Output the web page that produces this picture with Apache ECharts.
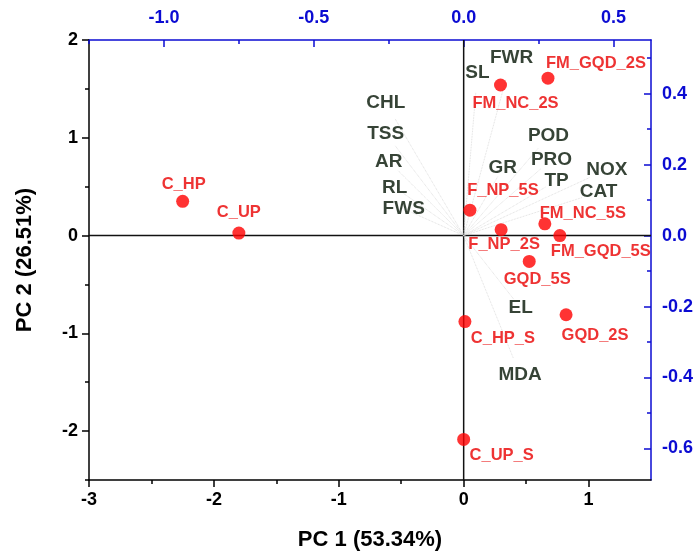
<!DOCTYPE html>
<html>
<head>
<meta charset="utf-8">
<script src="https://cdn.jsdelivr.net/npm/echarts@6/dist/echarts.min.js"></script>
<style>
  html, body { margin: 0; padding: 0; background: #fff; }
  #chart { width: 693px; height: 553px; }
</style>
</head>
<body>
<div id="chart"></div>
<script>
// PCA scores of the samples (PC1, PC2)
const sampleNames = ['C_HP', 'C_UP', 'C_HP_S', 'C_UP_S', 'F_NP_5S', 'F_NP_2S', 'GQD_5S', 'GQD_2S', 'FM_NC_2S', 'FM_GQD_2S', 'FM_NC_5S', 'FM_GQD_5S'];
const samplePC1 = [-2.25, -1.80, 0.01, 0.00, 0.05, 0.30, 0.525, 0.82, 0.295, 0.675, 0.65, 0.77];
const samplePC2 = [0.35, 0.025, -0.88, -2.085, 0.26, 0.06, -0.265, -0.81, 1.54, 1.61, 0.12, 0.0];

// PCA loadings of the measured variables (PC1, PC2)
const varNames = ['CHL', 'TSS', 'AR', 'RL', 'FWS', 'SL', 'FWR', 'GR', 'POD', 'PRO', 'TP', 'NOX', 'CAT', 'EL', 'MDA'];
const loadPC1 = [-0.26, -0.26, -0.25, -0.23, -0.20, 0.046, 0.16, 0.13, 0.283, 0.293, 0.31, 0.478, 0.45, 0.19, 0.188];
const loadPC2 = [0.374, 0.288, 0.209, 0.136, 0.075, 0.458, 0.50, 0.19, 0.28, 0.214, 0.155, 0.186, 0.122, -0.204, -0.392];

// Tick values
const scoreXTicks = [-3, -2, -1, 0, 1];
const scoreXMinor = [-2.5, -1.5, -0.5, 0.5];
const scoreYTicks = [-2, -1, 0, 1, 2];
const scoreYMinor = [-2.5, -1.5, -0.5, 0.5, 1.5];
const loadXTicks = [-1.0, -0.5, 0.0, 0.5];
const loadXMinor = [-1.25, -0.75, -0.25, 0.25];
const loadYTicks = [-0.6, -0.4, -0.2, 0.0, 0.2, 0.4];
const loadYMinor = [-0.5, -0.3, -0.1, 0.1, 0.3, 0.5];

// Axis extents: scores on bottom/left, loadings on top/right
const scoreX = { min: -3, max: 1.5 };
const scoreY = { min: -2.5, max: 2 };
const loadScaleX = 1.875 / 4.5;
const loadScaleY = 0.2755;
const loadX = { min: scoreX.min * loadScaleX, max: scoreX.max * loadScaleX };
const loadY = { min: scoreY.min * loadScaleY, max: scoreY.max * loadScaleY };

// Label placement for each sample (pixel offsets from the dot)
const sampleLabelOffset = [[1, -17], [0, -21], [38, 17], [38, 16], [33, -20], [3, 15], [8, 18], [29, 21], [15, 18], [48, -15], [38, -10], [41, 16]];

const FONT = "'Liberation Sans', Arial, sans-serif";
const BLUE = '#0b0bd2';
const RED = '#ff0000';
const RED_TEXT = '#ea0000';
const VAR_COLOR = '#041404';

function axisPair(position, ext, major, minor, color, inside, fmt, extra) {
  const main = Object.assign({
    type: 'value', position: position, min: ext.min, max: ext.max,
    axisLine: { show: true, onZero: false, lineStyle: { color: color, width: 1.5 } },
    axisTick: { show: true, inside: inside, length: 7, customValues: major, lineStyle: { color: color, width: 1.5 } },
    axisLabel: { show: true, customValues: major, color: color, fontFamily: FONT, fontWeight: 'bold', fontSize: 18, margin: 11, formatter: fmt },
    splitLine: { show: false }
  }, extra || {});
  const sub = {
    type: 'value', position: position, min: ext.min, max: ext.max,
    axisLine: { show: false, onZero: false },
    axisTick: { show: true, inside: inside, length: 4, customValues: minor, lineStyle: { color: color, width: 1.5 } },
    axisLabel: { show: false },
    splitLine: { show: false }
  };
  return [main, sub];
}

const intFmt = v => String(Math.round(v));
const decFmt = v => v.toFixed(1);

const xAxes = [].concat(
  axisPair('bottom', scoreX, scoreXTicks, scoreXMinor, '#000', false, intFmt, {
    name: 'PC 1 (53.34%)', nameLocation: 'middle', nameGap: 49,
    nameTextStyle: { color: '#000', fontFamily: FONT, fontWeight: 'bold', fontSize: 22 }
  }),
  axisPair('top', loadX, loadXTicks, loadXMinor, BLUE, true, decFmt)
);
xAxes[2].axisLabel.margin = 13;

const yAxes = [].concat(
  axisPair('left', scoreY, scoreYTicks, scoreYMinor, '#000', false, intFmt, {
    name: 'PC 2 (26.51%)', nameLocation: 'middle', nameGap: 53,
    nameTextStyle: { color: '#000', fontFamily: FONT, fontWeight: 'bold', fontSize: 22 }
  }),
  axisPair('right', loadY, loadYTicks, loadYMinor, BLUE, true, decFmt)
);

const sampleData = sampleNames.map((n, i) => ({
  name: n,
  value: [samplePC1[i], samplePC2[i]],
  label: { offset: sampleLabelOffset[i] }
}));

const varData = varNames.map((n, i) => ({ name: n, value: [loadPC1[i], loadPC2[i]] }));

// Loading vectors stop short of the variable names
const arrowFrac = 0.88;
const vectorData = varNames.map((n, i) => ({
  coords: [[0, 0], [loadPC1[i] * arrowFrac, loadPC2[i] * arrowFrac]]
}));

const chart = echarts.init(document.getElementById('chart'), null, { renderer: 'canvas' });
chart.setOption({
  animation: false,
  backgroundColor: '#fff',
  grid: { left: 89, right: 42, top: 40, bottom: 73, containLabel: false, outerBoundsMode: 'none' },
  xAxis: xAxes,
  yAxis: yAxes,
  series: [
    {
      // zero reference lines
      type: 'line', xAxisIndex: 0, yAxisIndex: 0, silent: true, z: 1,
      showSymbol: false, symbol: 'none',
      lineStyle: { color: '#111', width: 1.5 },
      data: [[scoreX.min, 0], [scoreX.max, 0]]
    },
    {
      type: 'line', xAxisIndex: 0, yAxisIndex: 0, silent: true, z: 1,
      showSymbol: false, symbol: 'none',
      lineStyle: { color: '#111', width: 1.5 },
      data: [[0, scoreY.min], [0, scoreY.max]]
    },
    {
      type: 'lines', coordinateSystem: 'cartesian2d', xAxisIndex: 2, yAxisIndex: 2,
      silent: true, z: 2,
      lineStyle: { color: '#d6d6d6', width: 0.8, type: 'dotted', opacity: 1 },
      data: vectorData
    },
    {
      type: 'scatter', xAxisIndex: 2, yAxisIndex: 2, z: 3, silent: true,
      symbolSize: 1, itemStyle: { color: 'rgba(0,0,0,0)' },
      label: {
        show: true, position: 'inside', formatter: '{b}',
        color: VAR_COLOR, fontFamily: FONT, fontWeight: 'bold', fontSize: 19
      },
      data: varData
    },
    {
      type: 'scatter', xAxisIndex: 0, yAxisIndex: 0, z: 4, silent: true,
      symbol: 'circle', symbolSize: 13,
      itemStyle: { color: RED },
      label: {
        show: true, position: 'inside', formatter: '{b}',
        color: RED_TEXT, fontFamily: FONT, fontWeight: 'bold', fontSize: 16.5
      },
      data: sampleData
    }
  ]
});
</script>
</body>
</html>
